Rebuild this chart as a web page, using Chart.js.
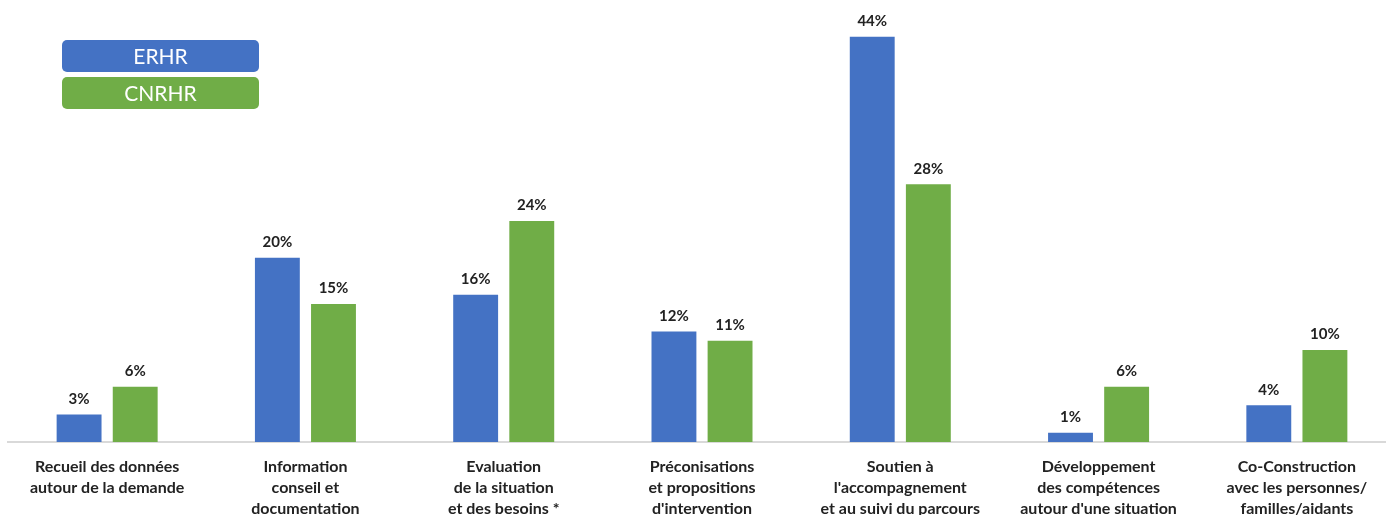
<!DOCTYPE html>
<html lang="fr">
<head>
<meta charset="UTF-8">
<title>ERHR / CNRHR</title>
<script src="https://cdnjs.cloudflare.com/ajax/libs/Chart.js/4.4.1/chart.umd.min.js"></script>
<style>
  html, body { margin: 0; padding: 0; background: #fff; overflow: hidden; }
  #wrap { width: 1386px; height: 515px; overflow: hidden; }
</style>
</head>
<body>
<div id="wrap">
  <canvas id="chart" width="1396" height="519"></canvas>
</div>
<script>
  const categories = [
    ['Recueil des données', 'autour de la demande'],
    ['Information', 'conseil et', 'documentation'],
    ['Evaluation', 'de la situation', 'et des besoins *'],
    ['Préconisations', 'et propositions', "d'intervention"],
    ['Soutien à', "l'accompagnement", 'et au suivi du parcours'],
    ['Développement', 'des compétences', "autour d'une situation"],
    ['Co-Construction', 'avec les personnes/', 'familles/aidants']
  ];
  const erhr = [3, 20, 16, 12, 44, 1, 4];
  const cnrhr = [6, 15, 24, 11, 28, 6, 10];

  const FONT = 'Lato, "Open Sans", sans-serif';

  // percentage labels above each bar
  const valueLabels = {
    id: 'valueLabels',
    afterDatasetsDraw(chart) {
      const ctx = chart.ctx;
      ctx.save();
      ctx.font = 'bold 15px ' + FONT;
      ctx.fillStyle = '#222';
      ctx.textAlign = 'center';
      ctx.textBaseline = 'bottom';
      chart.data.datasets.forEach((ds, i) => {
        chart.getDatasetMeta(i).data.forEach((bar, j) => {
          ctx.fillText(ds.data[j] + '%', bar.x, bar.y - 8);
        });
      });
      ctx.restore();
    }
  };

  // stacked legend boxes in the top left
  const boxLegend = {
    id: 'boxLegend',
    afterDraw(chart) {
      const ctx = chart.ctx;
      ctx.save();
      ctx.font = '21px ' + FONT;
      ctx.textAlign = 'center';
      ctx.textBaseline = 'middle';
      chart.data.datasets.forEach((ds, i) => {
        const x = 62, y = 40 + i * 37, w = 197, h = 32;
        ctx.fillStyle = ds.backgroundColor;
        ctx.beginPath();
        ctx.roundRect(x, y, w, h, 5);
        ctx.fill();
        ctx.fillStyle = '#fff';
        ctx.fillText(ds.label, x + w / 2, y + h / 2 + 1);
      });
      ctx.restore();
    }
  };

  new Chart(document.getElementById('chart'), {
    type: 'bar',
    data: {
      labels: categories,
      datasets: [
        { label: 'ERHR', data: erhr, backgroundColor: '#4472C4' },
        { label: 'CNRHR', data: cnrhr, backgroundColor: '#70AD47' }
      ]
    },
    options: {
      responsive: false,
      animation: false,
      layout: { padding: { left: 8, right: 0, top: 0, bottom: 0 } },
      datasets: {
        bar: { categoryPercentage: 0.566, barPercentage: 0.8 }
      },
      plugins: {
        legend: { display: false },
        tooltip: { enabled: false }
      },
      scales: {
        x: {
          afterFit: s => { s.height = 77; },
          grid: { display: false, drawTicks: false },
          border: { display: true, color: '#d9d9d9', width: 2 },
          ticks: {
            padding: 14,
            color: '#222',
            maxRotation: 0,
            autoSkip: false,
            font: { family: FONT, size: 16, weight: 'bold', lineHeight: 1.31 }
          }
        },
        y: {
          display: false,
          min: 0,
          max: 48
        }
      }
    },
    plugins: [valueLabels, boxLegend]
  });
</script>
</body>
</html>
